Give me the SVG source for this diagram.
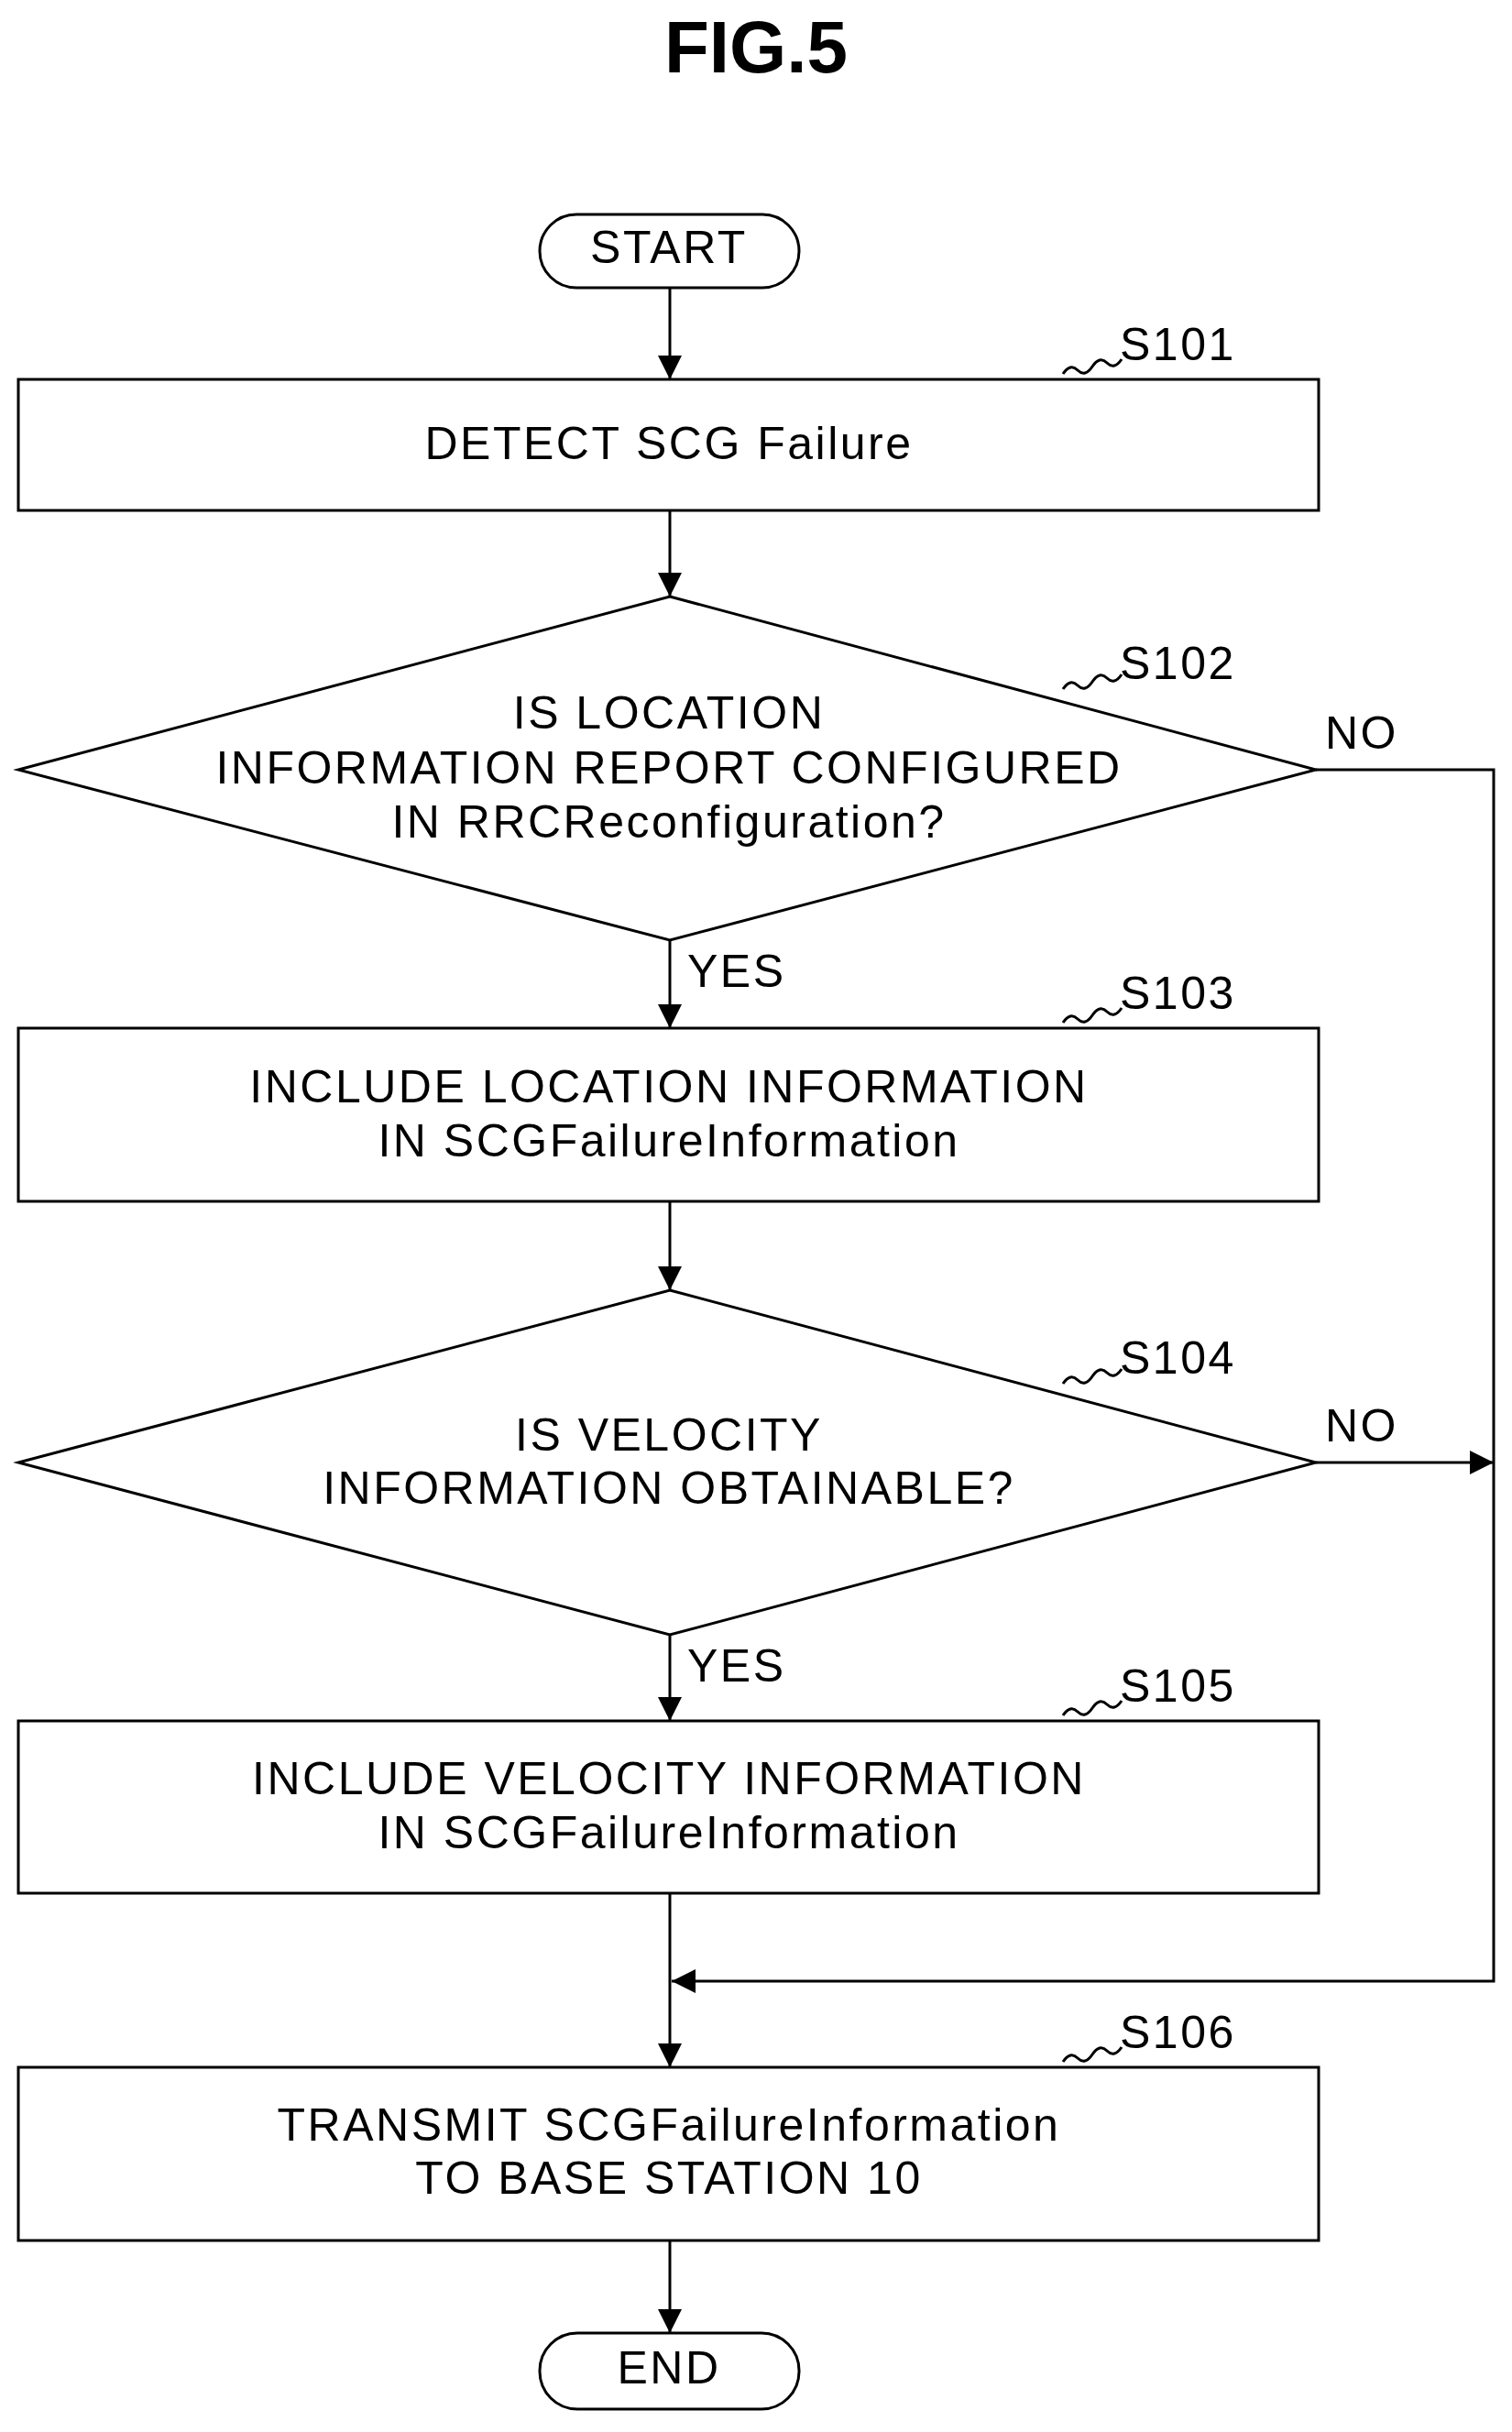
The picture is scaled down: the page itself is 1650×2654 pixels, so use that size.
<svg xmlns="http://www.w3.org/2000/svg" width="1650" height="2654" viewBox="0 0 1650 2654">
<style>
.s{fill:#fff;stroke:#000;stroke-width:3}
.l{fill:none;stroke:#000;stroke-width:3}
text{font-family:"Liberation Sans",Arial,sans-serif;font-size:50px;letter-spacing:2.5px;fill:#000;text-anchor:middle;dominant-baseline:middle}
.lab{text-anchor:start}
</style>
<defs>
<marker id="b" viewBox="0 0 10 10" refX="10" refY="5" markerWidth="26" markerHeight="26" orient="auto" markerUnits="userSpaceOnUse"><path d="M0,0L10,5L0,10z" fill="#000"/></marker></defs>
<rect width="1650" height="2654" fill="#fff"/>
<text x="825" y="58" style="font-size:80px;letter-spacing:0;font-weight:bold">FIG.5</text>
<g id="connectors">
<path class="l" d="M731,314V414" marker-end="url(#b)"/>
<path class="l" d="M731,557V651" marker-end="url(#b)"/>
<path class="l" d="M731,1026V1122" marker-end="url(#b)"/>
<path class="l" d="M731,1311V1408" marker-end="url(#b)"/>
<path class="l" d="M731,1784V1878" marker-end="url(#b)"/>
<path class="l" d="M731,2066V2256" marker-end="url(#b)"/>
<path class="l" d="M731,2445V2546" marker-end="url(#b)"/>
<path class="l" d="M1436,840H1630V2162H733" marker-end="url(#b)"/>
<path class="l" d="M1436,1596H1630" marker-end="url(#b)"/>
<text x="1446" y="804" class="lab">NO</text>
<text x="1446" y="1560" class="lab">NO</text>
<text x="750" y="1064" class="lab">YES</text>
<text x="750" y="1822" class="lab">YES</text>
</g>
<g id="start"><rect class="s" x="589" y="234" width="283" height="80" rx="40"/><text x="730" y="274">START</text></g>
<g id="S101"><rect class="s" x="20" y="414" width="1419" height="143"/><text x="730" y="488">DETECT SCG Failure</text>
<path class="l" d="M1160,408q8,-12 16,-4t16,-4 16,-4 16,-4"/><text x="1222" y="380" class="lab">S101</text></g>
<g id="S102"><path class="s" d="M731,651L1436,840L731,1026L20,840Z"/><text x="730" y="782">IS LOCATION</text><text x="730" y="842">INFORMATION REPORT CONFIGURED</text><text x="730" y="901">IN RRCReconfiguration?</text>
<path class="l" d="M1160,752q8,-12 16,-4t16,-4 16,-4 16,-4"/><text x="1222" y="728" class="lab">S102</text></g>
<g id="S103"><rect class="s" x="20" y="1122" width="1419" height="189"/><text x="730" y="1190">INCLUDE LOCATION INFORMATION</text><text x="730" y="1249">IN SCGFailureInformation</text>
<path class="l" d="M1160,1116q8,-12 16,-4t16,-4 16,-4 16,-4"/><text x="1222" y="1088" class="lab">S103</text></g>
<g id="S104"><path class="s" d="M731,1408L1436,1596L731,1784L20,1596Z"/><text x="730" y="1570">IS VELOCITY</text><text x="730" y="1628">INFORMATION OBTAINABLE?</text>
<path class="l" d="M1160,1510q8,-12 16,-4t16,-4 16,-4 16,-4"/><text x="1222" y="1486" class="lab">S104</text></g>
<g id="S105"><rect class="s" x="20" y="1878" width="1419" height="188"/><text x="730" y="1945">INCLUDE VELOCITY INFORMATION</text><text x="730" y="2004">IN SCGFailureInformation</text>
<path class="l" d="M1160,1872q8,-12 16,-4t16,-4 16,-4 16,-4"/><text x="1222" y="1844" class="lab">S105</text></g>
<g id="S106"><rect class="s" x="20" y="2256" width="1419" height="189"/><text x="730" y="2323">TRANSMIT SCGFailureInformation</text><text x="730" y="2381">TO BASE STATION 10</text>
<path class="l" d="M1160,2250q8,-12 16,-4t16,-4 16,-4 16,-4"/><text x="1222" y="2222" class="lab">S106</text></g>
<g id="end"><rect class="s" x="589" y="2546" width="283" height="83" rx="41"/><text x="730" y="2588">END</text></g>
</svg>
